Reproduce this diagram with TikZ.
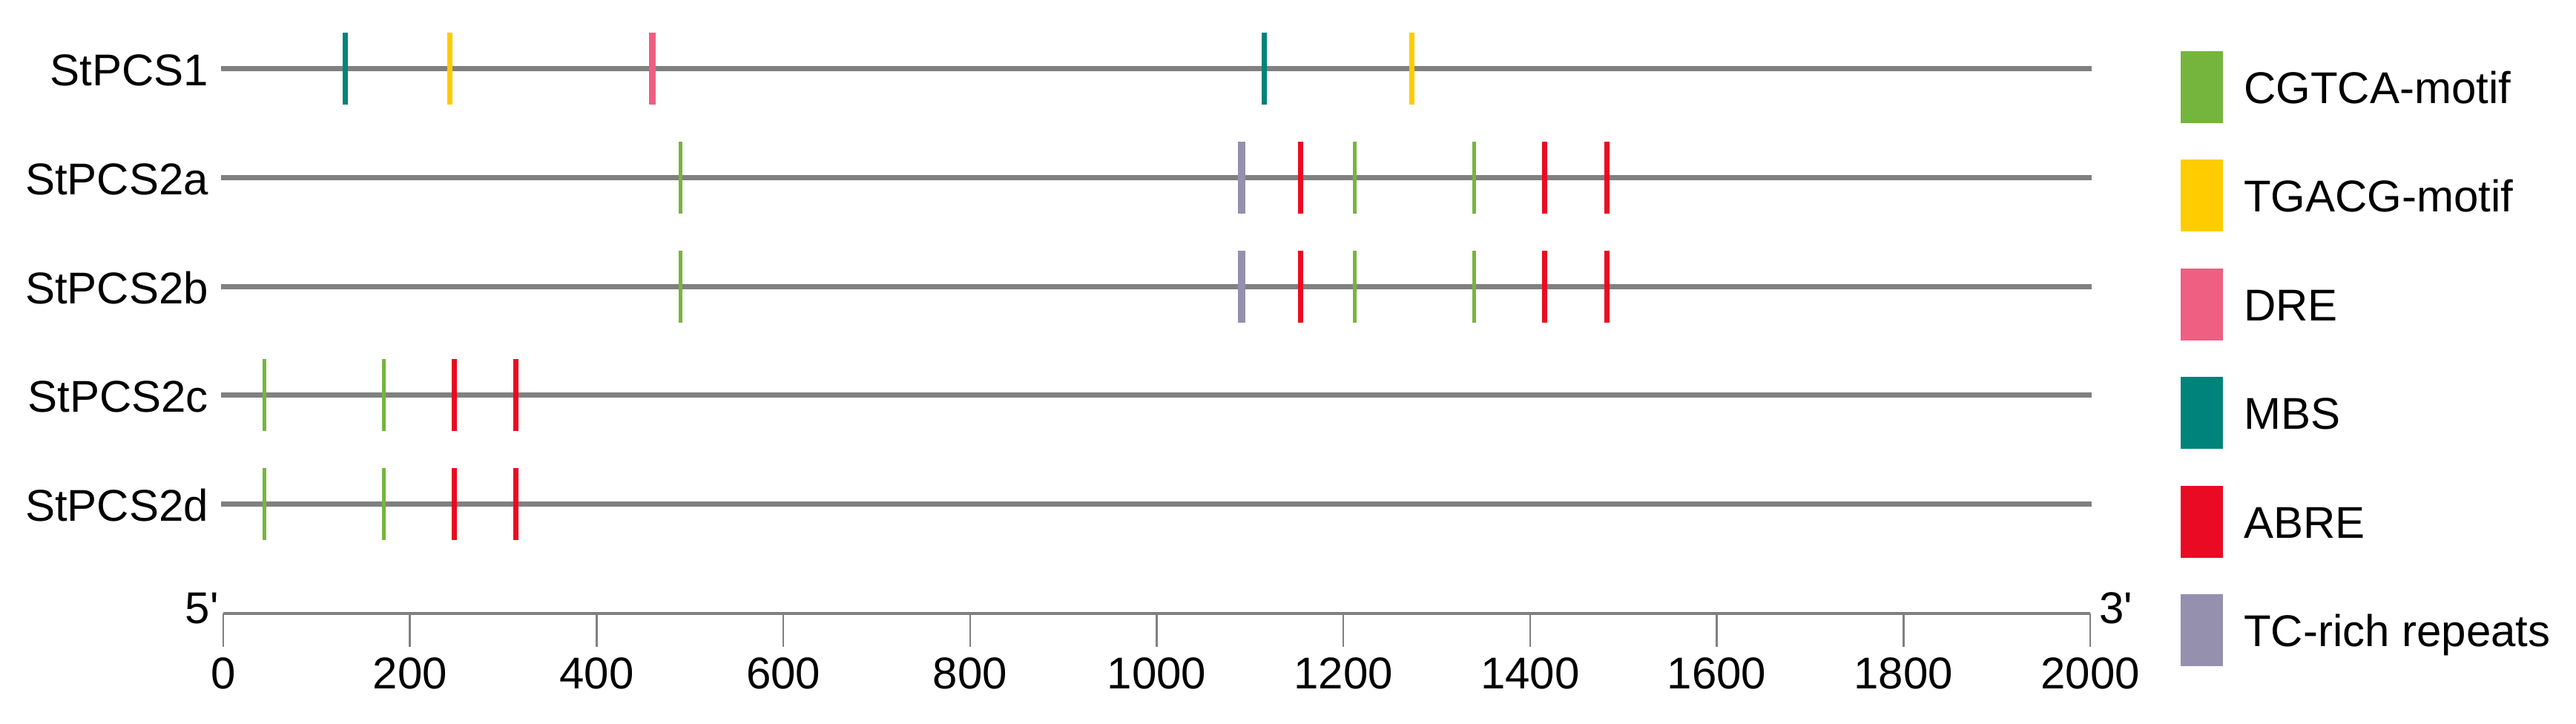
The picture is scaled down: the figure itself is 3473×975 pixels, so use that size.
\documentclass[tikz,border=0pt]{standalone}
\usepackage{fontspec}
\setmainfont{Liberation Sans}
\newfontfamily\primefont{Liberation Sans}[Ligatures=TeXOff]
\definecolor{cgtca}{HTML}{76B53D}
\definecolor{tgacg}{HTML}{FFCC00}
\definecolor{dre}{HTML}{EF5F82}
\definecolor{mbs}{HTML}{00837A}
\definecolor{abre}{HTML}{EA0A23}
\definecolor{tcrich}{HTML}{9490AE}
\definecolor{geneline}{HTML}{808080}
\begin{document}
\begin{tikzpicture}[x=1pt,y=-1pt,
  txt/.style={inner sep=0pt, font=\fontsize{60}{72}\selectfont},
  genelab/.style={txt, anchor=base east},
  ticklab/.style={txt, anchor=base},
  leglab/.style={txt, anchor=base west},
  primelab/.style={inner sep=0pt, font=\primefont\fontsize{60}{72}\selectfont},
  gene/.style={draw=geneline, line width=7pt},
  axisline/.style={draw=geneline, line width=4pt},
  tickline/.style={draw=geneline, line width=2.5pt},
  swatch/.style={draw=none, minimum width=57pt, minimum height=97pt, inner sep=0pt, anchor=west}
]
\useasboundingbox (0,0) rectangle (3473,975);
% gene rows
\foreach \name/\lab/\yy in {g1/StPCS1/92, g2a/StPCS2a/239, g2b/StPCS2b/386, g2c/StPCS2c/532.5, g2d/StPCS2d/679}{
  \node[genelab] (\name) at (281,\yy+23) {\lab};
  \coordinate (\name s) at (298,\yy);
  \coordinate (\name e) at (2820,\yy);
  \draw[gene] (\name s) -- (\name e);
}
% motifs: bp/colour/width/row y
\foreach \bp/\col/\w/\yy in {
  130/mbs/7/92, 242/tgacg/7/92, 459/dre/9/92, 1115/mbs/7/92, 1273/tgacg/7/92,
  489/cgtca/5/239, 1091/tcrich/10/239, 1154/abre/7/239, 1212/cgtca/5/239, 1340/cgtca/5/239, 1415/abre/7/239, 1482/abre/7/239,
  489/cgtca/5/386, 1091/tcrich/10/386, 1154/abre/7/386, 1212/cgtca/5/386, 1340/cgtca/5/386, 1415/abre/7/386, 1482/abre/7/386,
  43/cgtca/5/532.5, 171/cgtca/5/532.5, 247/abre/7/532.5, 313/abre/7/532.5,
  43/cgtca/5/679, 171/cgtca/5/679, 247/abre/7/679, 313/abre/7/679}{
  \draw[draw=\col, line width=\w pt] ({302+1.258*\bp},\yy-48.5) -- ({302+1.258*\bp},\yy+48.5);
}
% axis
\coordinate (ax0) at (301,827);
\coordinate (ax1) at (2818,827);
\draw[axisline] (ax0) -- (ax1);
\foreach \i in {0,...,10}{
  \pgfmathtruncatemacro{\v}{200*\i}
  \coordinate (t\i) at ({301+251.7*\i},827);
  \draw[tickline] (t\i) -- ++(0,45);
  \node[ticklab] (tl\i) at ({301+251.7*\i},928) {\v};
}
\node[primelab, anchor=base east] (five) at (295,840) {5'};
\node[primelab, anchor=base west] (three) at (2830,840) {3'};
% legend
\foreach \col/\lab/\yy [count=\k] in {cgtca/CGTCA-motif/117, tgacg/TGACG-motif/263, dre/DRE/410, mbs/MBS/556, abre/ABRE/703, tcrich/TC-rich repeats/849}{
  \node[swatch, fill=\col] (sw\k) at (2940,\yy) {};
  \node[leglab] (lg\k) at (3025,\yy+22) {\lab};
}
\end{tikzpicture}
\end{document}
